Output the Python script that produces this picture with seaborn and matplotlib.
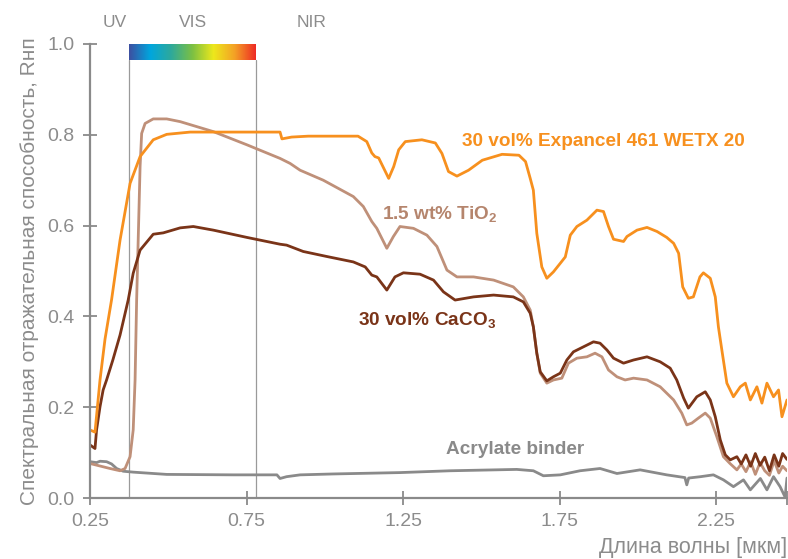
import numpy as np
import pandas as pd
import matplotlib
matplotlib.use("Agg")
import matplotlib.pyplot as plt
from matplotlib.colors import LinearSegmentedColormap
import seaborn as sns

# Reflectance spectra (wavelength in um)
wl_expancel = [0.250, 0.266, 0.282, 0.298, 0.319, 0.346, 0.378, 0.410, 0.452, 0.495, 0.570, 0.697,
               0.857, 0.863, 0.894, 0.947, 1.106, 1.134, 1.150, 1.160, 1.172, 1.204, 1.220, 1.236,
               1.257, 1.310, 1.353, 1.374, 1.395, 1.422, 1.459, 1.503, 1.566, 1.620, 1.641, 1.656,
               1.666, 1.677, 1.693, 1.709, 1.730, 1.752, 1.768, 1.784, 1.805, 1.837, 1.869, 1.890,
               1.906, 1.922, 1.954, 1.965, 1.997, 2.029, 2.061, 2.092, 2.114, 2.130, 2.143, 2.161,
               2.177, 2.198, 2.209, 2.231, 2.247, 2.257, 2.268, 2.284, 2.305, 2.327, 2.343, 2.359,
               2.380, 2.396, 2.412, 2.433, 2.449, 2.460, 2.476]
r_expancel = [0.150, 0.145, 0.260, 0.350, 0.437, 0.568, 0.693, 0.752, 0.789, 0.801, 0.806, 0.806,
              0.806, 0.791, 0.795, 0.797, 0.797, 0.785, 0.760, 0.752, 0.749, 0.704, 0.730, 0.767,
              0.785, 0.789, 0.782, 0.759, 0.719, 0.709, 0.722, 0.744, 0.757, 0.755, 0.741, 0.704,
              0.678, 0.583, 0.509, 0.484, 0.498, 0.517, 0.531, 0.579, 0.598, 0.612, 0.634, 0.631,
              0.598, 0.570, 0.565, 0.576, 0.590, 0.596, 0.587, 0.574, 0.561, 0.539, 0.465, 0.440,
              0.443, 0.487, 0.496, 0.484, 0.443, 0.377, 0.326, 0.253, 0.223, 0.245, 0.253, 0.216,
              0.245, 0.209, 0.253, 0.223, 0.238, 0.179, 0.216]

wl_tio2 = [0.250, 0.314, 0.346, 0.362, 0.378, 0.388, 0.394, 0.399, 0.410, 0.415, 0.426, 0.452,
           0.495, 0.538, 0.644, 0.751, 0.857, 0.889, 0.921, 0.995, 1.091, 1.123, 1.150, 1.166,
           1.198, 1.219, 1.240, 1.283, 1.326, 1.358, 1.390, 1.422, 1.475, 1.539, 1.602, 1.634,
           1.656, 1.666, 1.677, 1.688, 1.709, 1.730, 1.757, 1.778, 1.805, 1.837, 1.863, 1.885,
           1.906, 1.933, 1.959, 1.986, 2.029, 2.071, 2.114, 2.140, 2.156, 2.172, 2.193, 2.215,
           2.231, 2.252, 2.273, 2.294, 2.316, 2.330, 2.345, 2.360, 2.375, 2.390, 2.405, 2.420,
           2.435, 2.450, 2.462, 2.476]
r_tio2 = [0.076, 0.065, 0.060, 0.065, 0.091, 0.150, 0.260, 0.436, 0.730, 0.803, 0.825, 0.835,
          0.835, 0.829, 0.807, 0.778, 0.748, 0.737, 0.722, 0.700, 0.664, 0.642, 0.609, 0.594,
          0.550, 0.576, 0.598, 0.594, 0.579, 0.554, 0.502, 0.487, 0.487, 0.480, 0.465, 0.443,
          0.414, 0.377, 0.319, 0.275, 0.253, 0.260, 0.264, 0.297, 0.308, 0.311, 0.319, 0.311,
          0.282, 0.267, 0.260, 0.264, 0.260, 0.245, 0.216, 0.187, 0.161, 0.165, 0.176, 0.187,
          0.176, 0.135, 0.091, 0.076, 0.062, 0.075, 0.058, 0.080, 0.052, 0.078, 0.060, 0.050,
          0.082, 0.055, 0.070, 0.060]

wl_caco3 = [0.250, 0.266, 0.271, 0.282, 0.292, 0.303, 0.323, 0.346, 0.372, 0.388, 0.410, 0.452,
            0.484, 0.538, 0.580, 0.644, 0.751, 0.857, 0.878, 0.931, 1.006, 1.091, 1.129, 1.150,
            1.166, 1.198, 1.224, 1.251, 1.304, 1.347, 1.379, 1.416, 1.475, 1.539, 1.602, 1.634,
            1.656, 1.666, 1.677, 1.688, 1.709, 1.730, 1.752, 1.773, 1.794, 1.826, 1.858, 1.879,
            1.901, 1.922, 1.954, 1.986, 2.029, 2.071, 2.103, 2.124, 2.146, 2.161, 2.188, 2.215,
            2.231, 2.247, 2.263, 2.279, 2.295, 2.316, 2.330, 2.345, 2.360, 2.375, 2.390, 2.405,
            2.420, 2.435, 2.450, 2.462, 2.476]
r_caco3 = [0.117, 0.109, 0.150, 0.201, 0.238, 0.260, 0.304, 0.359, 0.436, 0.495, 0.546, 0.581,
           0.584, 0.595, 0.598, 0.590, 0.574, 0.559, 0.557, 0.543, 0.532, 0.520, 0.509, 0.491,
           0.487, 0.458, 0.487, 0.496, 0.493, 0.480, 0.454, 0.436, 0.443, 0.447, 0.443, 0.432,
           0.407, 0.377, 0.319, 0.278, 0.258, 0.267, 0.275, 0.304, 0.322, 0.333, 0.344, 0.341,
           0.326, 0.308, 0.297, 0.304, 0.311, 0.300, 0.286, 0.260, 0.220, 0.198, 0.223, 0.234,
           0.216, 0.179, 0.128, 0.095, 0.084, 0.091, 0.075, 0.095, 0.070, 0.098, 0.072, 0.090,
           0.060, 0.095, 0.070, 0.098, 0.085]

wl_binder = [0.250, 0.271, 0.282, 0.303, 0.319, 0.335, 0.356, 0.388, 0.495, 0.708, 0.847, 0.857,
             0.878, 0.921, 1.027, 1.240, 1.400, 1.613, 1.666, 1.698, 1.752, 1.815, 1.879, 1.933,
             2.007, 2.092, 2.150, 2.156, 2.162, 2.200, 2.241, 2.273, 2.305, 2.337, 2.359, 2.391,
             2.412, 2.433, 2.454, 2.470, 2.476]
r_binder = [0.080, 0.078, 0.081, 0.080, 0.075, 0.065, 0.059, 0.057, 0.052, 0.051, 0.051, 0.043,
            0.047, 0.051, 0.053, 0.056, 0.060, 0.063, 0.060, 0.049, 0.051, 0.060, 0.065, 0.054,
            0.062, 0.051, 0.045, 0.029, 0.044, 0.047, 0.051, 0.040, 0.025, 0.040, 0.018, 0.043,
            0.018, 0.047, 0.025, 0.002, 0.044]

x_ticks = [0.25, 0.75, 1.25, 1.75, 2.25]
y_ticks = [0.0, 0.2, 0.4, 0.6, 0.8, 1.0]
vis_range = (0.375, 0.78)
spectrum_colors = ["#3d4fa1", "#00a6de", "#2fa99a", "#7cc043", "#ede81c", "#f4a126", "#ee2b24"]

c_orange = "#f7901e"
c_tio2 = "#bf9079"
c_caco3 = "#7a3418"
c_binder = "#8a8a8a"
c_text = "#8c8c8c"

sns.set_style("ticks")
plt.rcParams["font.family"] = ["Liberation Sans", "DejaVu Sans"]
plt.rcParams["mathtext.fontset"] = "custom"
plt.rcParams["mathtext.rm"] = "Liberation Sans"
plt.rcParams["mathtext.bf"] = "Liberation Sans:bold"

fig = plt.figure(figsize=(7.88, 5.59), dpi=100)
ax = fig.add_axes([0.1142, 0.1091, 0.8845, 0.8122])

for wl, r, c in [(wl_binder, r_binder, c_binder), (wl_tio2, r_tio2, c_tio2),
                 (wl_caco3, r_caco3, c_caco3), (wl_expancel, r_expancel, c_orange)]:
    sns.lineplot(x=wl, y=r, ax=ax, color=c, linewidth=2.0, sort=False, estimator=None,
                 solid_joinstyle="round", solid_capstyle="round")

# VIS band lines and spectrum strip
for v in vis_range:
    ax.plot([v, v], [0, 0.965], color="#9a9a9a", lw=0.9, zorder=0)
cmap = LinearSegmentedColormap.from_list("spec", spectrum_colors)
ax.imshow(np.linspace(0, 1, 256)[None, :], cmap=cmap, aspect="auto",
          extent=[vis_range[0], vis_range[1], 0.965, 1.0], zorder=3)

ax.set_xlim(0.25, 2.476)
ax.set_ylim(0, 1.0)
ax.set_xticks(x_ticks)
ax.set_xticklabels([f"{t:.2f}" for t in x_ticks])
ax.set_xticks([2.476], minor=True)
ax.set_yticks(y_ticks)
ax.set_yticklabels([f"{t:.1f}" for t in y_ticks])
ax.tick_params(axis="both", which="both", direction="inout", length=10, width=1.3,
               colors="#8a8a8a", labelsize=14, labelcolor=c_text, pad=6)
for s in ["top", "right"]:
    ax.spines[s].set_visible(False)
for s in ["left", "bottom"]:
    ax.spines[s].set_color("#8a8a8a")
    ax.spines[s].set_linewidth(1.6)

ax.set_ylabel("Спектральная отражательная способность, Rнп", color=c_text, fontsize=15, labelpad=6)
ax.set_xlabel("Длина волны [мкм]", color=c_text, fontsize=15.5, loc="right", labelpad=5)

for lbl, xp in [("UV", 0.33), ("VIS", 0.579), ("NIR", 0.959)]:
    ax.text(xp, 1.048, lbl, color=c_text, fontsize=12.5, ha="center", va="center", clip_on=False)

ax.text(1.438, 0.786, "30 vol% Expancel 461 WETX 20", color=c_orange, fontsize=13.7,
        fontweight="bold", ha="left", va="center")
ax.text(1.183, 0.623, "1.5 wt% TiO$_\\mathbf{2}$", color="#b5856d", fontsize=13.7,
        fontweight="bold", ha="left", va="center")
ax.text(1.106, 0.39, "30 vol% CaCO$_\\mathbf{3}$", color=c_caco3, fontsize=13.7,
        fontweight="bold", ha="left", va="center")
ax.text(1.387, 0.106, "Acrylate binder", color=c_binder, fontsize=13.7,
        fontweight="bold", ha="left", va="center")

fig.savefig("out.png", dpi=100)
